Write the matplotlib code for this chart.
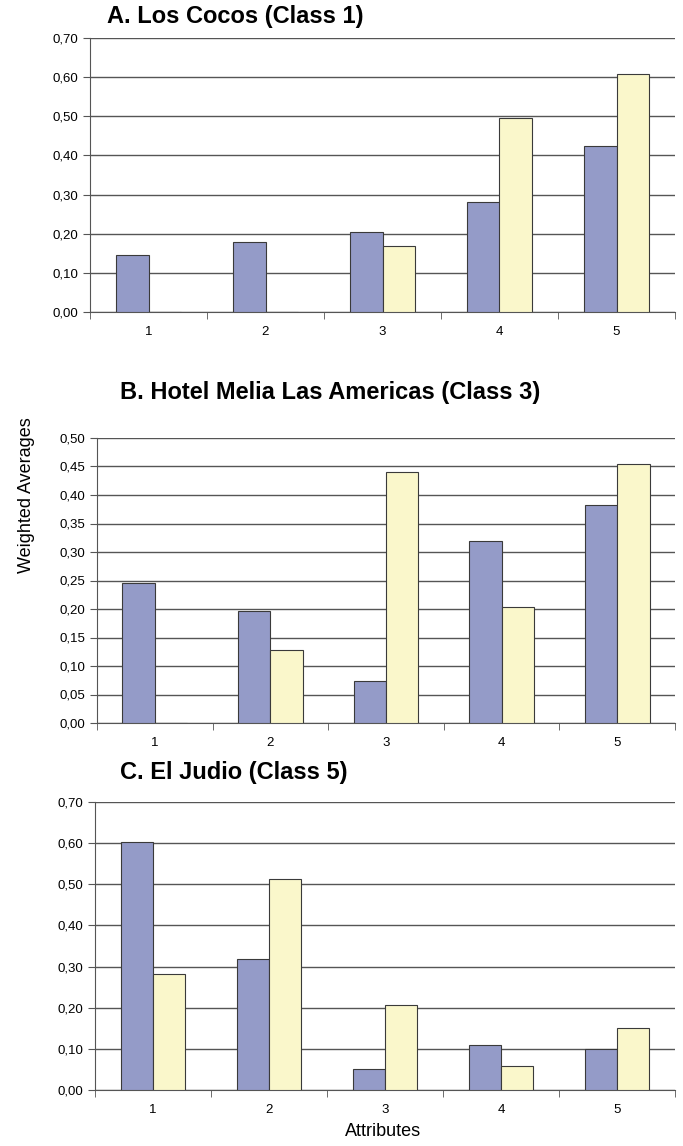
import numpy as np
from matplotlib import pyplot as plt

# data
attributes = [1, 2, 3, 4, 5]
titles = ["A. Los Cocos (Class 1)",
          "B. Hotel Melia Las Americas (Class 3)",
          "C. El Judio (Class 5)"]
a_blue = [0.145, 0.180, 0.205, 0.280, 0.425]
a_yellow = [0.0, 0.0, 0.168, 0.495, 0.608]
b_blue = [0.245, 0.196, 0.074, 0.320, 0.382]
b_yellow = [0.0, 0.128, 0.440, 0.203, 0.455]
c_blue = [0.603, 0.318, 0.052, 0.110, 0.099]
c_yellow = [0.282, 0.512, 0.207, 0.058, 0.150]

blue = "#949bc8"
yellow = "#faf7cb"
edge = "#3a3a3a"
plt.rcParams['font.family'] = ["Liberation Sans", "DejaVu Sans"]

W, H = 683, 1146
fig = plt.figure(figsize=(W / 100, H / 100), dpi=100)

# panel boxes in pixels: left, top, right, bottom
boxes = [(90, 38, 675, 312), (97, 438, 675, 723), (95, 802, 675, 1090)]
ymax = [0.70, 0.50, 0.70]
ystep = [0.10, 0.05, 0.10]
title_pos = [(107, 17), (120, 392), (120, 772)]
series = [(a_blue, a_yellow), (b_blue, b_yellow), (c_blue, c_yellow)]

x = np.array(attributes)
w = 0.28
for i in range(3):
    l, t, r, b = boxes[i]
    ax = fig.add_axes([l / W, 1 - b / H, (r - l) / W, (b - t) / H])
    s1, s2 = series[i]
    ax.bar(x - w / 2, s1, w, color=blue, edgecolor=edge, linewidth=0.8, zorder=3)
    ax.bar(x + w / 2, s2, w, color=yellow, edgecolor=edge, linewidth=0.8, zorder=3)
    ax.set_xlim(0.5, 5.5)
    ax.set_ylim(0, ymax[i])
    yt = np.arange(0, ymax[i] + 1e-9, ystep[i])
    ax.set_yticks(yt)
    ax.set_yticklabels([("%.2f" % v).replace(".", ",") for v in yt], fontsize=9.5)
    ax.yaxis.grid(True, color="#555555", linewidth=1.0, zorder=0)
    ax.set_xticks(x)
    ax.set_xticklabels([str(v) for v in attributes], fontsize=9.5)
    ax.set_xticks(np.arange(0.5, 5.6, 1), minor=True)
    ax.tick_params(axis="x", which="major", length=0, pad=10)
    ax.tick_params(axis="x", which="minor", length=5, color="#555555")
    ax.tick_params(axis="y", length=5, color="#555555")
    for sp in ["top", "right"]:
        ax.spines[sp].set_visible(False)
    for sp in ["left", "bottom"]:
        ax.spines[sp].set_color("#555555")
    fig.text(title_pos[i][0] / W, 1 - title_pos[i][1] / H, titles[i],
             fontsize=17, fontweight="bold", ha="left", va="center")

fig.text(27 / W, 1 - 495 / H, "Weighted Averages", rotation=90,
         fontsize=13, ha="center", va="center")
fig.text(383 / W, 1 - 1132 / H, "Attributes", fontsize=13,
         ha="center", va="center")

fig.savefig("out.png", dpi=100)
